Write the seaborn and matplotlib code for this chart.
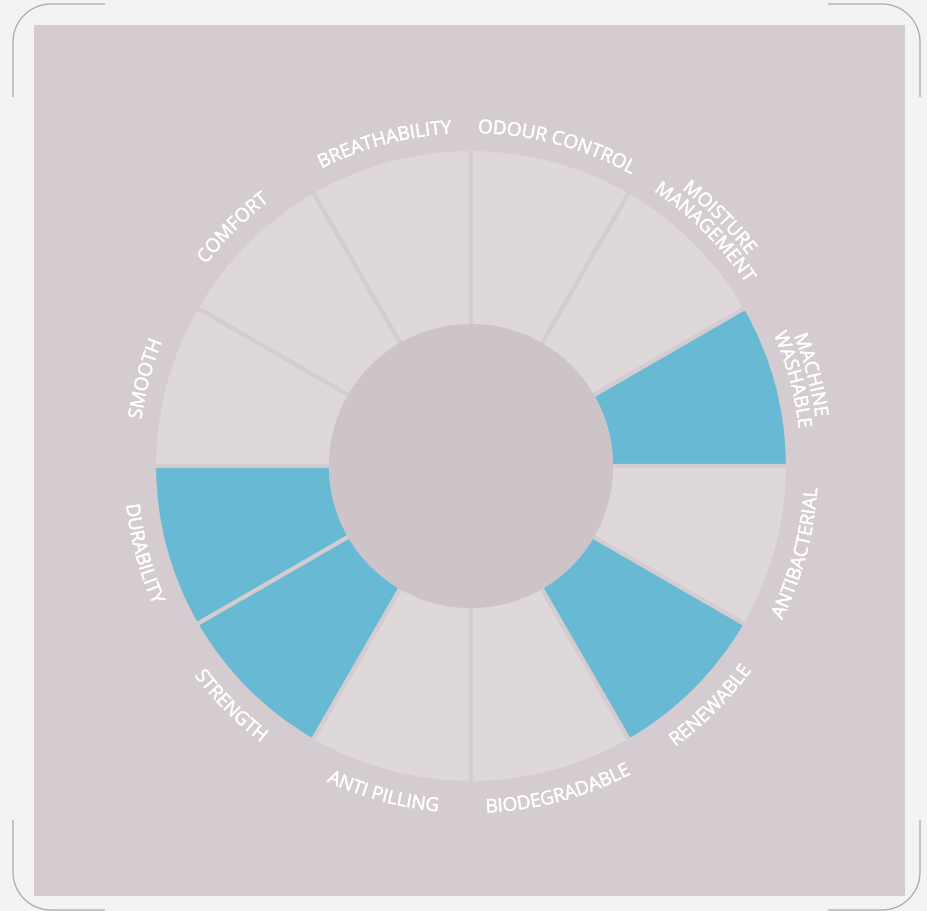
import matplotlib
matplotlib.use("Agg")

import numpy as np
import matplotlib.pyplot as plt
import matplotlib.patheffects as pe
from matplotlib.font_manager import FontProperties, findfont, get_font
import seaborn as sns

# Wheel segments, counter-clockwise starting from 3 o'clock (30 degrees each)
labels = ["MACHINE\nWASHABLE", "MOISTURE\nMANAGEMENT", "ODOUR CONTROL", "BREATHABILITY",
          "COMFORT", "SMOOTH", "DURABILITY", "STRENGTH", "ANTI PILLING",
          "BIODEGRADABLE", "RENEWABLE", "ANTIBACTERIAL"]
highlighted = [1, 0, 0, 0, 0, 0, 1, 1, 0, 0, 1, 0]

sns.set_theme(style="white")
plt.rcParams["font.family"] = ["Open Sans", "DejaVu Sans"]

frame_color = "#f3f3f3"
fabric = "#d4ccd0"
seg_grey = "#ded8db"
centre_grey = "#ccc4c8"
blue = "#68b9d3"

W, H = 927, 911
fig = plt.figure(figsize=(W / 100, H / 100), dpi=100)
fig.patch.set_facecolor(frame_color)

# Background: card frame + fabric panel (pixel coordinates, y down)
bg = fig.add_axes([0, 0, 1, 1])
bg.set_xlim(0, W)
bg.set_ylim(H, 0)
bg.axis("off")
bg.add_patch(plt.Rectangle((34, 25), 871, 871, color=fabric, lw=0))


def corner(cx, cy, a0, a1, p_start, p_end):
    a = np.radians(np.linspace(a0, a1, 30))
    xs = [p_start[0]] + list(cx + 38 * np.cos(a)) + [p_end[0]]
    ys = [p_start[1]] + list(cy + 38 * np.sin(a)) + [p_end[1]]
    bg.plot(xs, ys, color="#a8a8a8", lw=0.9, solid_capstyle="butt")


corner(51, 42, 180, 270, (13, 97), (105, 4))
corner(882, 42, 270, 360, (828, 4), (920, 97))
corner(51, 872, 180, 90, (13, 820), (105, 910))
corner(882, 872, 0, 90, (920, 820), (828, 910))

# Polar wheel, data radius == pixels
cx, cy, R = 471, 466, 370
ax = fig.add_axes([(cx - R) / W, (H - cy - R) / H, 2 * R / W, 2 * R / H],
                  projection="polar")
ax.set_ylim(0, R)
ax.axis("off")

n = len(labels)
theta = np.radians(15 + 30 * np.arange(n))
colors = [blue if h else seg_grey for h in highlighted]
ax.bar(theta, 177, width=np.radians(30), bottom=140, color=colors,
       edgecolor=fabric, linewidth=3, zorder=2)
ax.bar(0, 142, width=2 * np.pi, bottom=0, color=centre_grey, lw=0, zorder=3)

# Curved labels: glyph advances straight from the font
fsize = 13.6
prop = FontProperties(family=["Open Sans", "DejaVu Sans"], size=fsize)
font = get_font(findfont(prop))
font.set_size(fsize, 100)
thicken = [pe.withStroke(linewidth=0.35, foreground="white")]


def advances(s):
    return np.array([font.load_char(ord(c)).linearHoriAdvance / 65536 for c in s])


def curved(text, th_c, r, top):
    a = advances(text)
    total = a.sum()
    mids = np.cumsum(a) - a / 2
    for ch, mid in zip(text, mids):
        if ch == " ":
            continue
        off = (mid - total / 2) / r
        if top:
            th = th_c - off
            rot = np.degrees(th) - 90
        else:
            th = th_c + off
            rot = np.degrees(th) + 90
        ax.text(th, r, ch, rotation=rot, rotation_mode="anchor", ha="center",
                va="baseline", color="white", fontproperties=prop, zorder=4,
                path_effects=thicken)


for lab, th in zip(labels, theta):
    lines = lab.split("\n")
    top = np.sin(th) > 0
    if len(lines) == 2:
        curved(lines[0], th, 348, top)
        curved(lines[1], th, 330, top)
    else:
        curved(lines[0], th, 333 if top else 347, top)

fig.savefig("out.png", dpi=100, facecolor=frame_color)
